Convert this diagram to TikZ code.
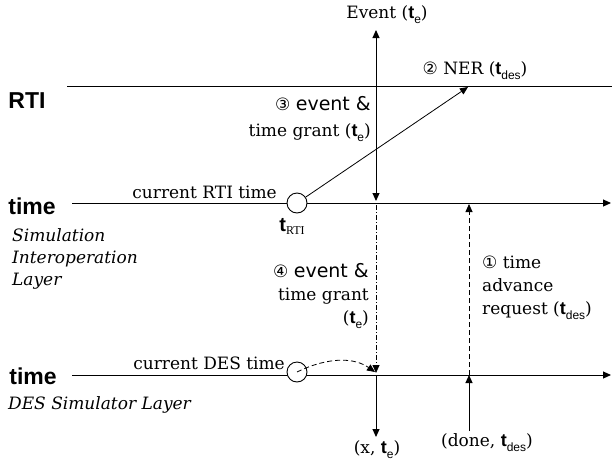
\documentclass[tikz,border=0pt]{standalone}
\usepackage{fontspec}
\setmainfont{DejaVu Serif}
\newfontfamily\sansf{Liberation Sans}
\newfontfamily\serf{Liberation Serif}
\newfontfamily\symf{DejaVu Sans}
\usetikzlibrary{arrows.meta}

\newcommand\tb[1]{{\sansf\bfseries\fontsize{18}{18}\selectfont t}\raisebox{-0.3em}{\sansf\fontsize{12}{12}\selectfont #1}}
\newcommand\trti{{\sansf\bfseries\fontsize{20}{20}\selectfont t}\raisebox{-0.3em}{\serf\fontsize{12}{12}\selectfont RTI}}
\newcommand\ev{{\symf\fontsize{19}{19}\selectfont event \&}}

\tikzset{
  tip/.style={-{Triangle[length=8pt,width=7pt]}},
  axis/.style={line width=1pt, tip},
  dashline/.style={line width=0.8pt, dash pattern=on 5pt off 3pt, tip},
  dotline/.style={line width=0.8pt, dash pattern=on 5pt off 2pt on 1pt off 2pt, tip},
  lbl/.style={font=\fontsize{17}{23}\selectfont, inner sep=0pt},
  grant/.style={font=\fontsize{17}{23}\selectfont, inner sep=0pt, align=right},
  layer/.style={font=\sansf\bfseries\fontsize{23}{23}\selectfont, inner sep=0pt},
  note/.style={font=\itshape\fontsize{17}{22}\selectfont, inner sep=0pt, align=left},
  clock/.style={circle, draw, fill=white, minimum size=20pt, inner sep=0pt, line width=0.9pt},
}

\begin{document}
\begin{tikzpicture}[x=1pt, y=-1pt]
  \useasboundingbox (0,0) rectangle (612,463);

  % layers and time lines
  \node[layer] (rti) at (27,101) {RTI};
  \coordinate (rtiL) at (67,86);
  \coordinate (rtiR) at (612,86);
  \draw[line width=1pt] (rtiL) -- (rtiR);

  \node[layer] (tsil) at (32,206) {time};
  \coordinate (silL) at (72,203);
  \coordinate (silR) at (611,203);
  \draw[axis] (silL) -- (silR);

  \node[layer] (tdes) at (33,376) {time};
  \coordinate (desL) at (72,375);
  \coordinate (desR) at (611,375);
  \draw[axis] (desL) -- (desR);

  \node[note, anchor=north west] (sil) at (12,228) {Simulation\\Interoperation\\Layer};
  \node[note, anchor=west] (dsl) at (8,405) {DES Simulator Layer};

  % RTI side
  \node[clock] (crti) at (297,203) {};
  \node[lbl, anchor=base east] (currti) at (277,198) {current RTI time};
  \node[inner sep=0pt] (trtil) at (292,226) {\trti};

  \coordinate (evtop) at (376,30);
  \coordinate (evbot) at (376,201);
  \draw[line width=1pt, {Triangle[length=8pt,width=7pt]}-{Triangle[length=8pt,width=7pt]}] (evtop) -- (evbot);
  \node[lbl] (evl) at (387,15) {Event (\tb{e})};

  \coordinate (ner) at (468,87);
  \draw[line width=0.8pt, tip] (crti) -- (ner);
  \node[lbl] (nerl) at (475,71) {{\symf ②} NER (\tb{des})};

  \node[grant, anchor=north east, font=\fontsize{17}{26}\selectfont] (grant1) at (371,96) {{\symf ③} \ev\\time grant (\tb{e})};

  % between the layers
  \coordinate (gr2top) at (376,205);
  \coordinate (gr2bot) at (376,373);
  \draw[dotline] (gr2top) -- (gr2bot);
  \node[grant, anchor=north east] (grant2) at (369,263) {{\symf ④} \ev\\time grant\\(\tb{e})};

  \coordinate (tarbot) at (469,375);
  \coordinate (tartop) at (469,204);
  \draw[dashline] (tarbot) -- (tartop);
  \node[lbl, anchor=north west, align=left] (tarl) at (482,256) {{\symf ①} time\\advance\\request (\tb{des})};

  % DES side
  \node[clock] (cdes) at (297,372) {};
  \node[lbl, anchor=base east] (curdes) at (285,369) {current DES time};
  \coordinate (desev) at (375,372);
  \draw[dashline] (cdes.center) .. controls (330,356) and (355,358) .. (desev);

  \coordinate (xbot) at (376,437);
  \coordinate (xtop) at (376,375);
  \draw[line width=1pt, tip] (xtop) -- (xbot);
  \node[lbl] (xl) at (377,450) {(x, \tb{e})};

  \coordinate (donebot) at (469,431);
  \draw[line width=1pt, tip] (donebot) -- (tarbot);
  \node[lbl] (donel) at (487,443) {(done, \tb{des})};
\end{tikzpicture}
\end{document}
